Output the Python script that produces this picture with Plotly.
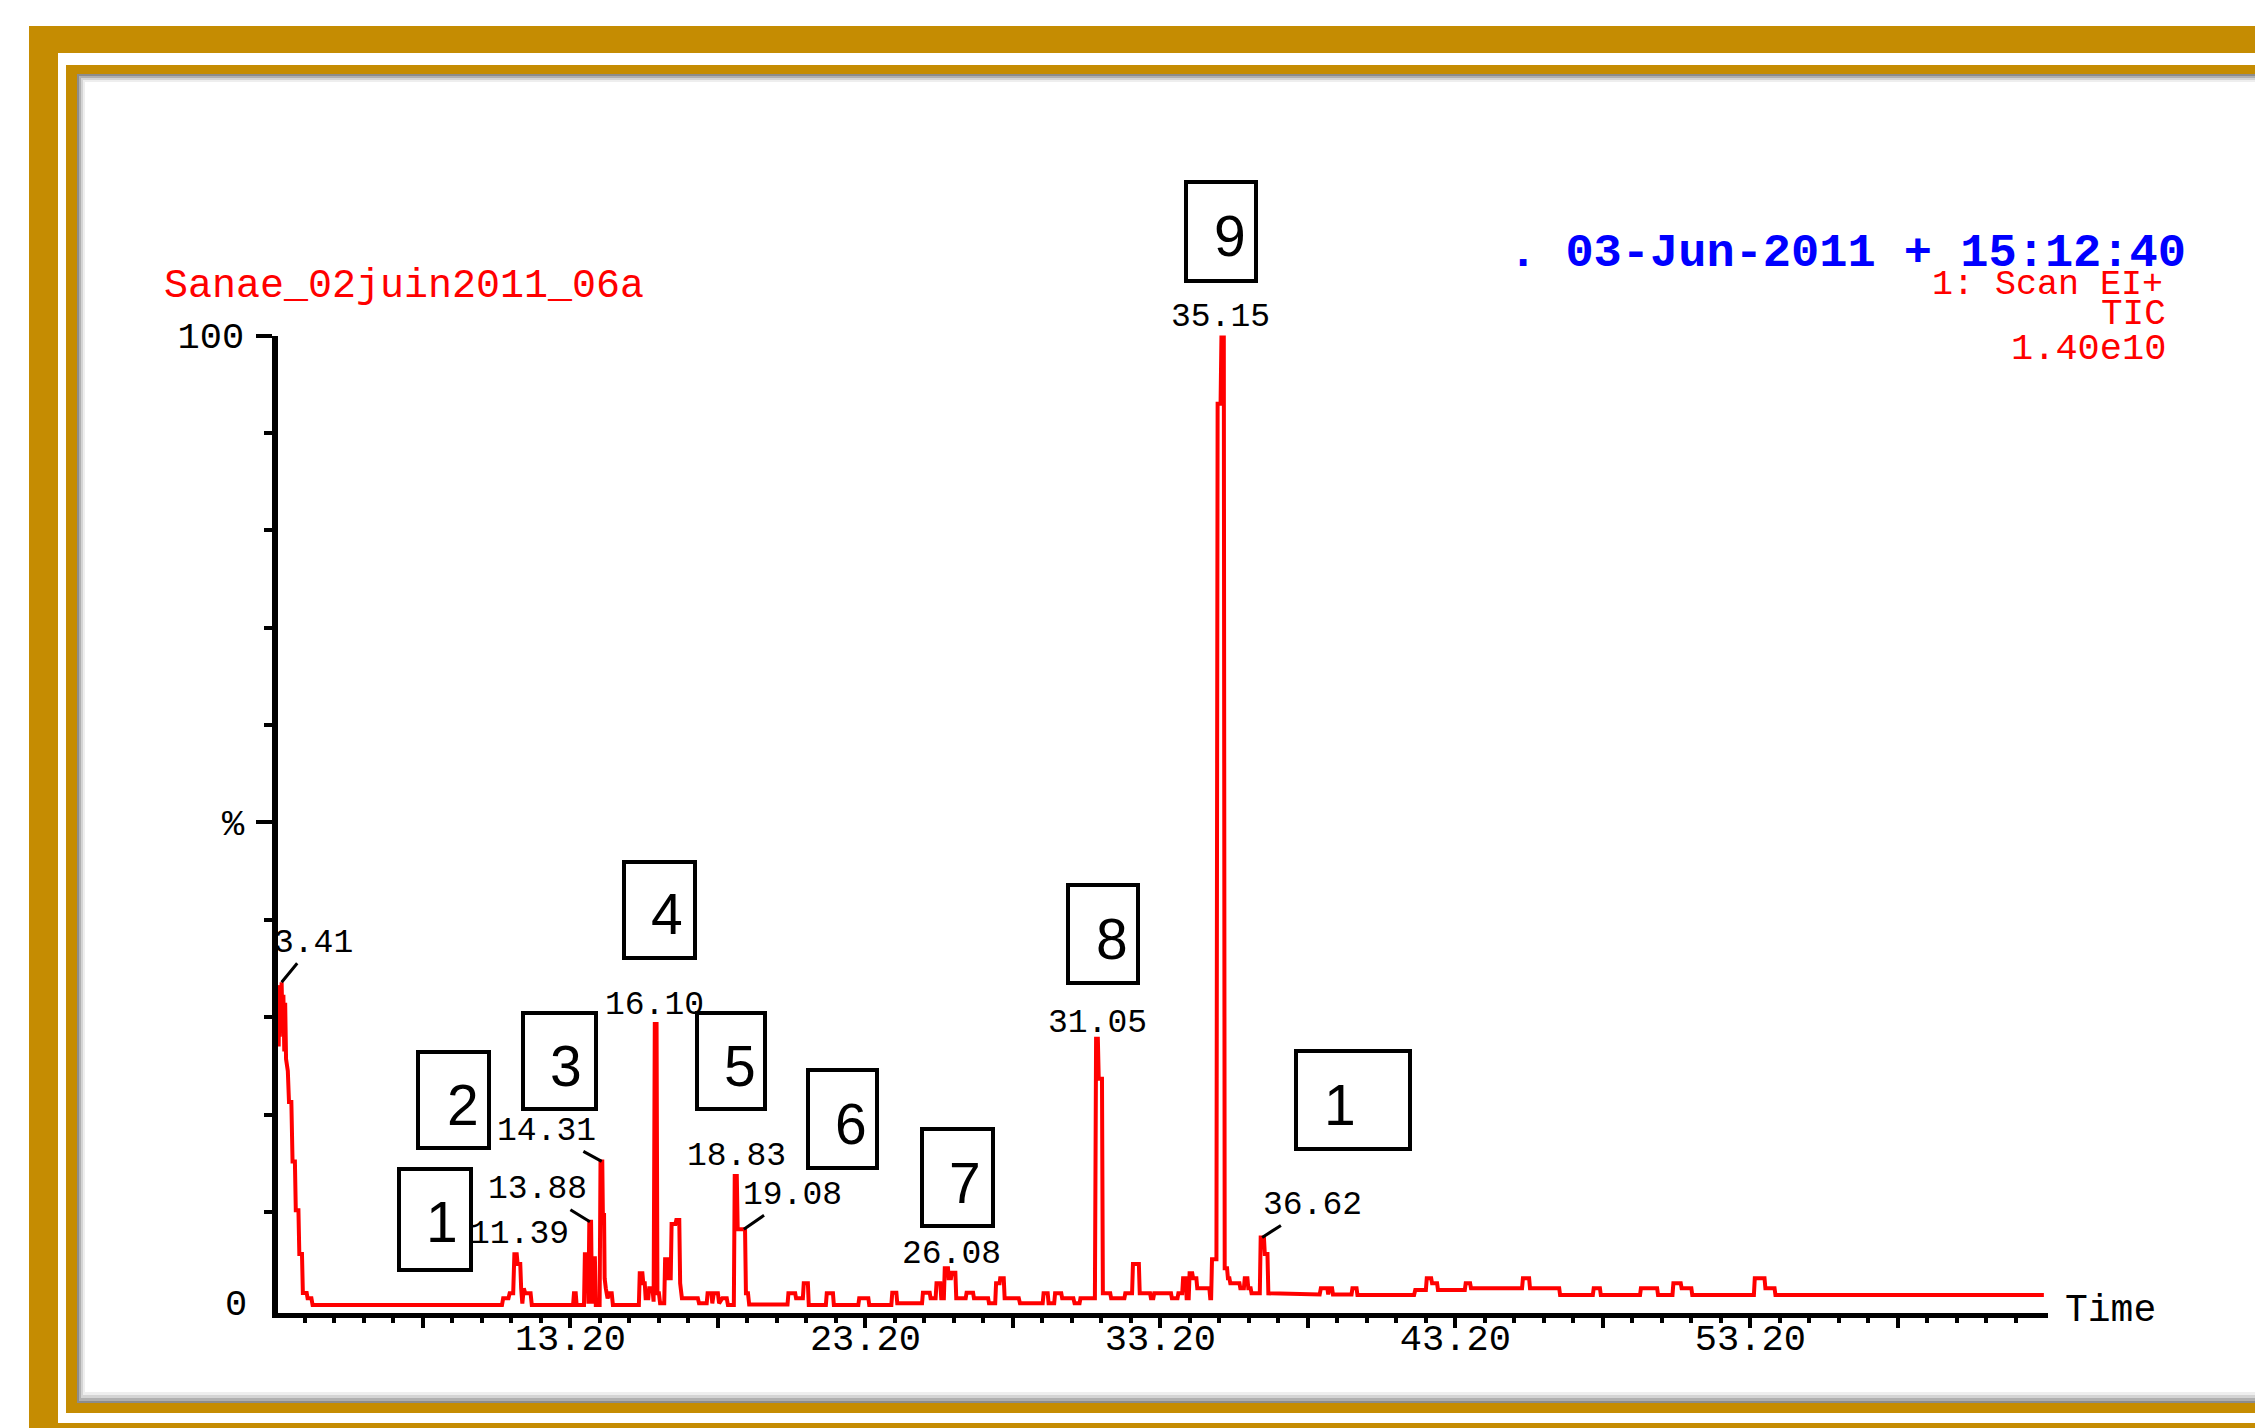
import plotly.graph_objects as go

W, H = 2255, 1428

# ---------------- data ----------------
# retention time (min) and relative abundance (% of base peak, TIC)
rt = [3.27, 3.29, 3.31, 3.33, 3.35, 3.38, 3.41, 3.44, 3.47, 3.50, 3.53, 3.56, 3.62, 3.66, 3.74, 3.78, 3.86, 3.89,
      3.98, 4.01, 4.10, 4.13, 4.26, 4.29, 4.42, 4.46,
      10.88, 10.92, 11.10, 11.14, 11.26, 11.30, 11.38, 11.41, 11.50, 11.53, 11.57, 11.62, 11.67, 11.85, 11.89,
      13.29, 13.32, 13.38, 13.41, 13.66, 13.69, 13.78, 13.81, 13.84, 13.90, 13.93, 13.95, 14.03, 14.06,
      14.19, 14.22, 14.28, 14.30, 14.34, 14.36, 14.40, 14.46, 14.52, 14.60, 14.64,
      15.52, 15.55, 15.64, 15.67, 15.72, 15.75, 15.84, 15.87, 15.98, 16.02, 16.06, 16.12, 16.15, 16.20, 16.24,
      16.38, 16.41, 16.50, 16.53, 16.60, 16.63, 16.76, 16.79, 16.89, 16.92, 16.98, 17.52, 17.56,
      17.82, 17.85, 17.98, 18.01, 18.06, 18.20, 18.24, 18.35, 18.50, 18.54,
      18.74, 18.77, 18.84, 18.87, 19.12, 19.15, 19.22, 19.26,
      20.56, 20.59, 20.82, 20.85, 21.08, 21.11, 21.25, 21.28, 21.86, 21.89, 22.10, 22.13,
      22.96, 22.99, 23.30, 23.33, 24.08, 24.11, 24.25, 24.28, 25.12, 25.15, 25.38, 25.41, 25.58, 25.61, 25.74, 25.77,
      25.86, 25.89, 26.00, 26.02, 26.10, 26.13, 26.25, 26.28, 26.60, 26.63, 26.85, 26.88, 27.36, 27.39,
      27.60, 27.63, 27.75, 27.77, 27.89, 27.92, 28.40, 28.44,
      29.21, 29.24, 29.38, 29.41, 29.60, 29.63, 29.84, 29.87, 30.25, 30.29, 30.46, 30.49, 30.98,
      31.02, 31.08, 31.11, 31.22, 31.25, 31.50, 31.53, 31.98, 32.01, 32.24, 32.27, 32.47, 32.50,
      32.85, 32.88, 32.96, 32.99, 33.56, 33.59, 33.78, 33.81, 33.94, 33.97, 34.06, 34.09, 34.16, 34.19,
      34.28, 34.31, 34.42, 34.45, 34.86, 34.89, 34.92, 34.95, 35.10,
      35.14, 35.24, 35.27, 35.35, 35.38, 35.46, 35.49, 35.54, 35.57, 35.88, 35.91, 36.03, 36.06, 36.15,
      36.18, 36.26, 36.29, 36.57, 36.60, 36.71, 36.74, 36.83, 36.86,
      38.60, 38.64, 38.86, 38.89, 38.93, 39.02, 39.05, 39.68, 39.71, 39.85, 39.88,
      41.80, 41.84, 42.20, 42.23, 42.38, 42.41, 42.58, 42.61, 43.52, 43.55, 43.70, 43.73,
      45.46, 45.49, 45.70, 45.73, 46.72, 46.75, 47.86, 47.89, 48.10, 48.13, 49.46, 49.49, 50.04, 50.07,
      50.56, 50.59, 50.84, 50.87, 51.20, 51.23, 53.32, 53.35, 53.68, 53.71, 54.02, 54.05, 63.15]

tic = [30.0, 33.3, 27.0, 33.3, 28.0, 33.0, 33.6, 29.0, 32.3, 26.5, 31.5, 25.7, 24.5, 21.3, 21.3, 15.2, 15.2, 10.2,
       10.2, 5.7, 5.7, 1.7, 1.7, 1.15, 1.15, 0.46,
       0.46, 1.15, 1.15, 1.66, 1.66, 5.67, 5.67, 4.67, 4.67, 2.17, 0.6, 2.17, 1.66, 1.66, 0.46,
       0.46, 1.66, 1.66, 0.46, 0.46, 5.67, 5.67, 0.6, 9.0, 9.0, 0.6, 5.26, 5.26, 0.46,
       0.46, 15.2, 15.2, 9.7, 9.7, 3.2, 2.17, 1.15, 1.66, 1.66, 0.46,
       0.46, 3.72, 3.72, 2.69, 2.69, 1.15, 1.15, 2.17, 2.17, 0.8, 29.3, 29.3, 1.66, 1.66, 0.63,
       0.63, 5.15, 5.15, 3.2, 3.2, 8.78, 8.78, 9.19, 9.19, 2.69, 1.15, 1.15, 0.63,
       0.63, 1.66, 1.66, 0.63, 1.66, 1.66, 0.63, 1.15, 1.15, 0.46,
       0.46, 13.7, 13.7, 8.23, 8.23, 1.66, 1.66, 0.5,
       0.5, 1.66, 1.66, 1.15, 1.15, 2.69, 2.69, 0.46, 0.46, 1.66, 1.66, 0.46,
       0.46, 1.15, 1.15, 0.46, 0.46, 1.73, 1.73, 0.63, 0.63, 1.73, 1.73, 1.15, 1.15, 2.69, 2.69, 1.15,
       1.15, 4.23, 4.23, 3.2, 3.2, 3.78, 3.78, 1.15, 1.15, 1.73, 1.73, 1.15, 1.15, 0.63,
       0.63, 2.69, 2.69, 3.2, 3.2, 1.15, 1.15, 0.63,
       0.63, 1.66, 1.66, 0.63, 0.63, 1.66, 1.66, 1.15, 1.15, 0.63, 0.63, 1.15, 1.15,
       27.8, 27.8, 23.7, 23.7, 1.66, 1.66, 1.15, 1.15, 1.66, 1.66, 4.67, 4.67, 1.66,
       1.66, 1.15, 1.15, 1.66, 1.66, 1.15, 1.15, 1.66, 1.66, 3.2, 3.2, 1.15, 1.15, 3.72,
       3.72, 3.2, 3.2, 2.17, 2.17, 1.15, 1.15, 5.15, 5.15,
       93.0, 93.0, 100.0, 100.0, 4.23, 4.23, 3.2, 3.2, 2.69, 2.69, 2.17, 2.17, 3.2, 3.2,
       2.17, 2.17, 1.66, 1.66, 7.4, 7.4, 5.7, 5.7, 1.66,
       1.55, 2.17, 2.17, 1.55, 2.17, 2.17, 1.55, 1.55, 2.17, 2.17, 1.49,
       1.49, 2.0, 2.0, 3.2, 3.2, 2.69, 2.69, 2.0, 2.0, 2.69, 2.69, 2.17,
       2.17, 3.2, 3.2, 2.17, 2.17, 1.49, 1.49, 2.17, 2.17, 1.49, 1.49, 2.17, 2.17, 1.49,
       1.49, 2.69, 2.69, 2.17, 2.17, 1.49, 1.49, 3.2, 3.2, 2.17, 2.17, 1.49, 1.49]

# labelled peaks (retention time used for the label, text printed above the peak)
peak_rt = [3.41, 11.39, 13.86, 14.26, 16.09, 18.80, 19.08, 25.95, 31.06, 35.31, 36.65]
peak_text = ["3.41", "11.39", "13.88", "14.31", "16.10", "18.83", "19.08", "26.08", "31.05", "35.15", "36.62"]

# compound numbers written in boxes
compound_no = ["1", "2", "3", "4", "5", "6", "7", "8", "9", "1"]

# axis tick labels
x_major = [8.2, 13.2, 18.2, 23.2, 28.2, 33.2, 38.2, 43.2, 48.2, 53.2, 58.2]
x_major_text = ["", "13.20", "", "23.20", "", "33.20", "", "43.20", "", "53.20", ""]
y_major = [50, 100]
y_major_text = ["%", "100"]

# ---------------- layout helpers ----------------
PIX = "Liberation Mono"
GOLD = "#C58C02"


def px(x):
    return x / W


def py(y):
    return 1 - y / H


def apex(t):
    return max(v for tt, v in zip(rt, tic) if abs(tt - t) <= 0.06)


fig = go.Figure()
fig.add_trace(go.Scatter(x=rt, y=tic, mode="lines",
                         line=dict(color="#FF0000", width=4), hoverinfo="skip"))

shapes = []
# decorative frame
frame = [((29, 26, 2300, 1460), GOLD), ((58, 53, 2300, 1423), "white"),
         ((66, 65, 2300, 1413), GOLD), ((77, 74, 2300, 1403), "#8c8c8c"),
         ((79, 76, 2300, 1401), "#b0b0b0"), ((81, 78, 2300, 1398), "#d4d4d4"),
         ((83, 80, 2300, 1395), "#eeeeee"), ((85, 82, 2300, 1392), "white")]
for (x0, y0, x1, y1), c in frame:
    shapes.append(dict(type="rect", xref="paper", yref="paper", layer="below",
                       x0=px(x0), x1=px(x1), y0=py(y1), y1=py(y0),
                       fillcolor=c, line=dict(width=0)))

# compound boxes: centre (px), size (px), digit centre (px)
boxes = [((435, 1219.5), (76, 105), (442, 1222)),
         ((453.5, 1100), (75, 100), (463, 1105)),
         ((559.5, 1061), (77, 100), (566, 1066)),
         ((659.5, 910), (75, 100), (667, 914)),
         ((731, 1061), (72, 100), (740, 1066)),
         ((842.5, 1119), (73, 102), (851, 1124)),
         ((957.5, 1177.5), (75, 101), (965, 1183)),
         ((1103, 934), (74, 102), (1112, 939)),
         ((1221, 231.5), (74, 103), (1230, 236)),
         ((1353, 1100), (118, 102), (1340, 1105))]

X0PX, X1PX = 277.5, 2048.0
XR = [3.27, 63.29]


def t_of(xpix):
    return XR[0] + (xpix - X0PX) * (XR[1] - XR[0]) / (X1PX - X0PX)


annotations = []
LW = 4
for ((cx, cy), (bw, bh), (dx, dy)), num in zip(boxes, compound_no):
    tc = t_of(cx)
    shapes.append(dict(type="rect", xref="x", xsizemode="pixel", xanchor=tc,
                       x0=-(bw - LW) / 2, x1=(bw - LW) / 2,
                       yref="paper", y0=py(cy + (bh - LW) / 2), y1=py(cy - (bh - LW) / 2),
                       line=dict(color="black", width=LW), fillcolor="rgba(0,0,0,0)"))
    annotations.append(dict(x=tc, xref="x", xshift=dx - cx, y=py(dy), yref="paper",
                            text=num, showarrow=False, xanchor="center", yanchor="middle",
                            font=dict(family="Liberation Sans", size=57, color="black")))

# peak labels: pixel offset of label centre from the apex, leader line or not
label_off = [(32, -39, True), (2, -20, False), (-52, -32, True), (-55, -30, True), (-1, -19, False),
             (1, -20, False), (49, -34, True), (5, -14, False), (0, -15, False), (-2, -18, False),
             (50, -32, True)]
for t, txt, (ox, oy, lead) in zip(peak_rt, peak_text, label_off):
    a = dict(x=t, y=apex(t), xref="x", yref="y", text=txt,
             font=dict(family=PIX, size=33, color="black"))
    if lead:
        a.update(showarrow=True, arrowhead=0, arrowwidth=3, arrowcolor="black",
                 ax=ox, ay=oy, standoff=0)
    else:
        a.update(showarrow=False, xshift=ox, yshift=-oy)
    annotations.append(a)

# header texts
annotations += [
    dict(xref="paper", yref="paper", x=px(162), y=py(287), xanchor="left", yanchor="middle",
         text="Sanae_02juin2011_06a", showarrow=False, font=dict(family=PIX, size=40, color="#FF0000")),
    dict(xref="paper", yref="paper", x=px(2188), y=py(253), xanchor="right", yanchor="middle",
         text=". 03-Jun-2011 + 15:12:40", showarrow=False,
         font=dict(family=PIX, size=47, color="#0000FF", weight="bold")),
    dict(xref="paper", yref="paper", x=px(2165), y=py(285), xanchor="right", yanchor="middle",
         text="1: Scan EI+", showarrow=False, font=dict(family=PIX, size=35, color="#FF0000")),
    dict(xref="paper", yref="paper", x=px(2168), y=py(314.5), xanchor="right", yanchor="middle",
         text="TIC", showarrow=False, font=dict(family=PIX, size=36, color="#FF0000")),
    dict(xref="paper", yref="paper", x=px(2168), y=py(348.5), xanchor="right", yanchor="middle",
         text="1.40e10", showarrow=False, font=dict(family=PIX, size=37, color="#FF0000")),
    dict(xref="paper", yref="paper", x=px(2063), y=py(1310), xanchor="left", yanchor="middle",
         text="Time", showarrow=False, font=dict(family=PIX, size=38, color="black")),
    dict(xref="paper", yref="y", x=px(249), y=0, yshift=4, xanchor="right", yanchor="middle",
         text="0", showarrow=False, font=dict(family=PIX, size=37, color="black")),
]

fig.update_layout(
    width=W, height=H, autosize=False,
    margin=dict(l=0, r=0, t=0, b=0, pad=0, autoexpand=False),
    paper_bgcolor="white", plot_bgcolor="rgba(0,0,0,0)", showlegend=False,
    shapes=shapes, annotations=annotations,
    xaxis=dict(domain=[px(X0PX), px(X1PX)], range=XR, showgrid=False, zeroline=False,
               showline=True, linecolor="black", linewidth=5,
               tickmode="array", tickvals=x_major, ticktext=x_major_text,
               ticks="outside", ticklen=10, tickwidth=3.5, tickcolor="black",
               ticklabelstandoff=-22,
               tickfont=dict(family=PIX, size=37, color="black"),
               minor=dict(tickmode="array",
                          tickvals=[3.2 + k for k in range(1, 60) if k % 5 != 0],
                          ticks="outside", ticklen=5, tickwidth=3.5, tickcolor="black")),
    yaxis=dict(domain=[py(1312.5), py(335.5)], range=[-0.31, 100], showgrid=False, zeroline=False,
               showline=True, linecolor="black", linewidth=6,
               tickmode="array", tickvals=y_major, ticktext=y_major_text,
               ticks="outside", ticklen=16, tickwidth=4, tickcolor="black",
               ticklabelstandoff=4,
               tickfont=dict(family=PIX, size=37, color="black"),
               minor=dict(tickmode="array", tickvals=[10, 20, 30, 40, 60, 70, 80, 90],
                          ticks="outside", ticklen=8, tickwidth=4, tickcolor="black")),
)

fig.write_html("out.html", config={"displayModeBar": False, "responsive": False},
               post_script="document.body.style.margin='0';document.body.style.overflow='hidden';")
